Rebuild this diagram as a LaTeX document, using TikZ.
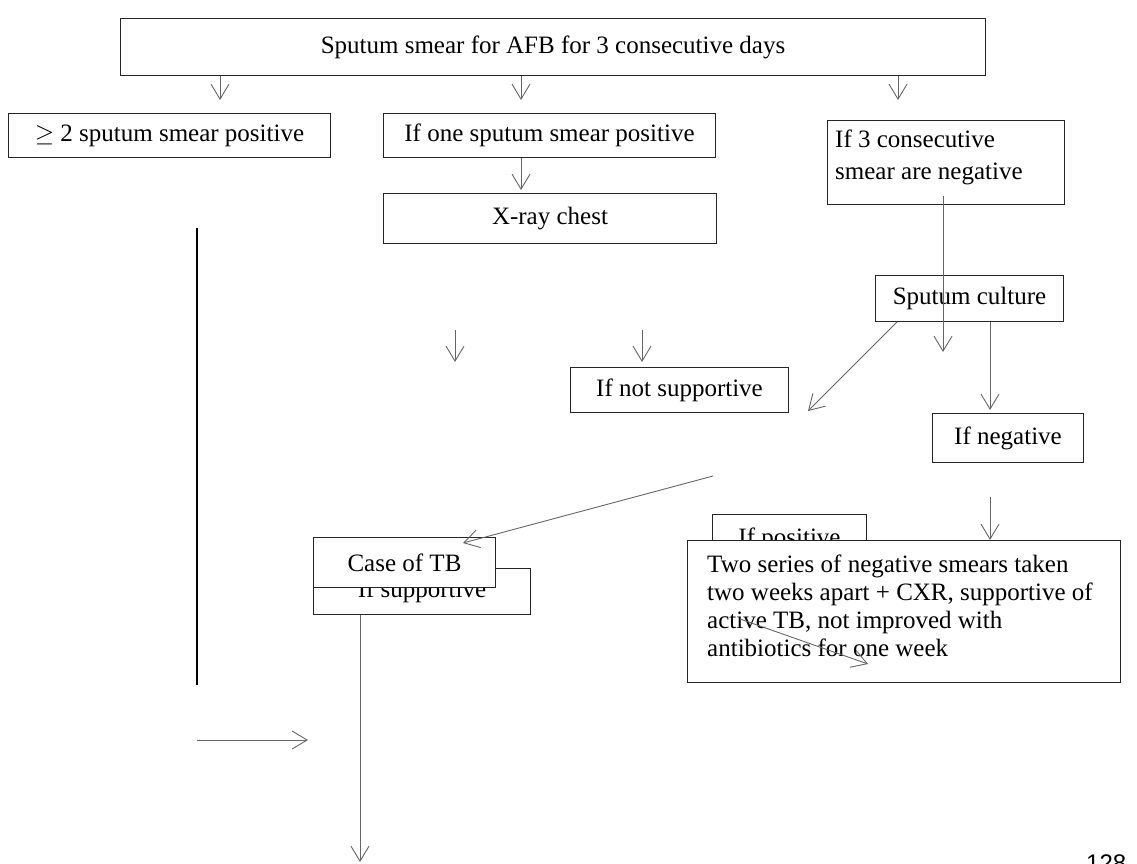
\documentclass[tikz,border=0pt]{standalone}
\usepackage{fontspec}
\setmainfont{Liberation Serif}
\newfontfamily\pgnumfont{Liberation Sans}
\usetikzlibrary{arrows.meta}
\begin{document}
\begin{tikzpicture}[x=1pt,y=-1pt,
  box/.style={draw=black!85, line width=1pt, fill=white, anchor=north west,
    inner sep=0pt, font=\fontsize{25}{29}\selectfont},
  boxtext/.style={anchor=north west, inner sep=0pt, align=left,
    font=\fontsize{25}{28}\selectfont},
  conn/.style={draw=black!60, line width=0.9pt,
    -{Straight Barb[length=15pt,width=18pt,line width=0.9pt]}},
  thickline/.style={draw=black, line width=2pt}]
\useasboundingbox (0,0) rectangle (1137,863);

% boxes
\node[box, minimum width=865, minimum height=57] (top) at (120,18)
  {Sputum smear for AFB for 3 consecutive days};
\node[box, minimum width=322, minimum height=44] (A) at (8,113)
  {$\geq$ 2 sputum smear positive};
\node[box, minimum width=332, minimum height=44] (B) at (383,113)
  {If one sputum smear positive};
\node[box, minimum width=333, minimum height=50] (X) at (383,193)
  {X-ray chest};
\node[box, minimum width=237, minimum height=84] (C) at (827,120) {};
\node[boxtext, font=\fontsize{25}{32}\selectfont] (Ct) at (835,130)
  {If 3 consecutive\\smear are negative};
\node[box, minimum width=188, minimum height=46] (Cul) at (875,275)
  {Sputum culture};
\node[box, minimum width=218, minimum height=45] (NS) at (570,367)
  {If not supportive};
\node[box, minimum width=151, minimum height=49] (Neg) at (932,413)
  {If negative};
\node[box, minimum width=154, minimum height=50] (Pos) at (712,514)
  {If positive};
\node[box, minimum width=433, minimum height=142] (Two) at (687,540) {};
\node[boxtext] (Twot) at (707,555)
  {Two series of negative smears taken\\two weeks apart + CXR, supportive of\\active TB, not improved with\\antibiotics for one week};
\node[box, minimum width=217, minimum height=46] (Sup) at (313,568)
  {If supportive};
\node[box, minimum width=182, minimum height=50] (Case) at (313,537)
  {Case of TB};

% free ends
\coordinate (a1) at (220,100);
\coordinate (b1) at (521,100);
\coordinate (c1) at (898,100);
\coordinate (bx) at (521,190);
\coordinate (ts) at (943,196);
\coordinate (te) at (943,352);
\coordinate (ng) at (990,410);
\coordinate (dg) at (808,411);
\coordinate (s1s) at (455,330);
\coordinate (s1e) at (455,362);
\coordinate (s2s) at (642,330);
\coordinate (s2e) at (642,362);
\coordinate (ld) at (713,476);
\coordinate (ctip) at (463,543);
\coordinate (pv) at (990,497);
\coordinate (ia) at (740,619);
\coordinate (ib) at (868,664);
\coordinate (lv) at (360,862);
\coordinate (tl1) at (197,228);
\coordinate (tl2) at (197,685);
\coordinate (h1) at (197,740);
\coordinate (h2) at (308,740);

% connectors
\draw[conn] (top.south -| a1) -- (a1);
\draw[conn] (top.south -| b1) -- (b1);
\draw[conn] (top.south -| c1) -- (c1);
\draw[conn] (B.south -| bx) -- (bx);
\draw[conn] (ts) -- (te);
\draw[conn] (Cul.south -| ng) -- (ng);
\draw[conn] ([xshift=22pt]Cul.south west) -- (dg);
\draw[conn] (s1s) -- (s1e);
\draw[conn] (s2s) -- (s2e);
\draw[conn] (ld) -- (ctip);
\draw[conn] (pv) -- (Two.north -| pv);
\draw[conn] (ia) -- (ib);
\draw[conn] (Sup.south -| lv) -- (lv);
\draw[thickline] (tl1) -- (tl2);
\draw[conn] (h1) -- (h2);

\node[anchor=north west, inner sep=0pt, font=\pgnumfont\fontsize{24}{24}\selectfont] (pg) at (1086,855) {128};
\end{tikzpicture}
\end{document}
